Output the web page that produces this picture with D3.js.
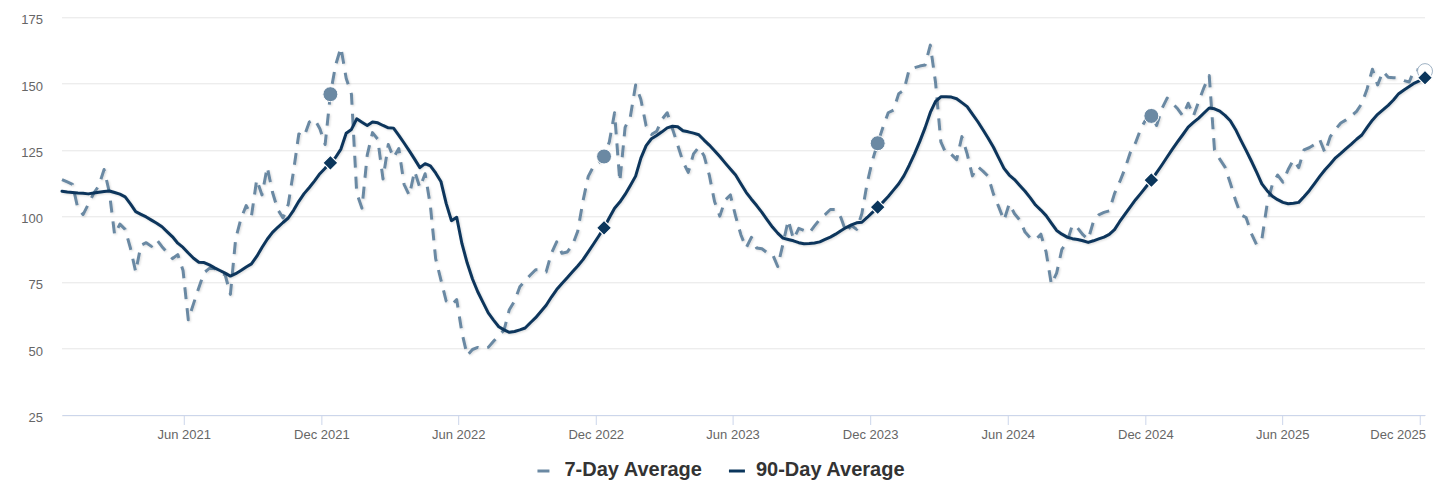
<!DOCTYPE html>
<html>
<head>
    <meta charset="utf-8">
    <title>7-Day and 90-Day Average</title>
    <script src="https://cdn.jsdelivr.net/npm/d3@7"></script>
    <style>
        body {
            margin: 0;
            background: #ffffff;
            font-family: "Liberation Sans", Arial, Helvetica, sans-serif;
        }
        .grid line {
            stroke: #e6e6e6;
            stroke-width: 1;
        }
        .x-axis path, .x-axis line {
            stroke: #ccd6eb;
        }
        .axis text {
            fill: #666666;
            font-size: 13px;
        }
        .legend text {
            fill: #333333;
            font-size: 20px;
            font-weight: bold;
        }
    </style>
</head>
<body>
<div class="mainView"></div>
<script>
    // weekly readings, first week is Mon 21 Dec 2020
    const firstWeek = "2020-12-21";

    const avg7 = [
        113.8, 112.9, 112, 103, 100.6, 104.5, 108.5, 111.5, 117.6, 109,
        93, 97, 95, 88, 79, 89, 90, 88.6, 91.1, 88.5,
        86.3, 84, 85.5, 79.5, 60.9, 67, 73, 78.7, 80.3, 80.3,
        78.5, 77.9, 70.5, 91.5, 99, 104, 100, 113.8, 108, 118.5,
        109, 102.5, 99.3, 104.5, 117, 131, 130, 135.5, 136.5, 133,
        127, 146, 157, 163.6, 152, 146, 108.8, 103, 123, 131.5,
        129, 114, 127, 122, 125.5, 112, 107.8, 117, 110.8, 116,
        104, 84, 76, 68, 66.5, 68.5, 56, 47.5, 49.7, 50.5,
        50, 50.5, 52.8, 55, 57, 64.7, 68, 73.4, 75.7, 77.8,
        79.8, 79.8, 79, 86, 90.3, 86, 86.5, 89, 94.3, 105.7,
        115, 118.8, 120.2, 122.5, 128, 139, 113, 133.5, 137.5, 149.5,
        144, 134, 130.8, 132, 136.5, 139, 133, 126.8, 120.5, 116.5,
        123.5, 126, 122.8, 115.5, 105.5, 100, 106, 108, 100, 93,
        88, 92, 88, 87.7, 86.2, 85.7, 81, 89.5, 98.5, 91.3,
        95.4, 94.6, 93.7, 96.3, 98.8, 100.6, 102.5, 102.5, 99.5, 94,
        96.5, 95, 101, 112.5, 121, 127.5, 133.5, 139, 140, 146.2,
        147.5, 155.5, 156, 156.6, 157, 164.5, 150.3, 128, 123.5, 123.3,
        121.3, 130, 123.5, 115.2, 118.7, 117, 115, 108.3, 103.5, 98.4,
        104.7, 100.9, 98.5, 94, 91.8, 91.1, 93.2, 86.5, 74.3, 78.5,
        87.5, 90.3, 96.7, 95.5, 93, 91.2, 98, 100.5, 101.4, 102,
        108.5, 113, 118, 124, 127.7, 133, 136.6, 137.8, 134.2, 140.5,
        144.5, 142.5, 140.5, 137.8, 142.6, 137.8, 143.3, 148.5, 153, 125,
        121.5, 118.5, 112.5, 106, 100.5, 99.5, 93.5, 89.2, 91.2, 104.5,
        112, 115.5, 112.8, 117.6, 121.2, 118.3, 125, 125.8, 127, 128.9,
        123.9, 130, 132.8, 135.1, 136.3, 137.8, 139.5, 142.5, 148, 155.4,
        149.5, 154.6, 152.4, 152.2, 152.1, 151.1, 150.6, 155.3, 155, 154.7
    ];

    const avg90 = [
        109.4, 109.1, 108.9, 108.7, 108.6, 108.4, 108.7, 109, 109.3, 109.5,
        108.9, 108.3, 107.3, 104.6, 101.7, 100.7, 99.7, 98.5, 97.3, 96,
        94.1, 92.2, 89.8, 88.2, 86.1, 84.1, 82.6, 82.5, 81.6, 80.5,
        79.5, 78.5, 77.4, 78.3, 79.5, 80.8, 82, 84.8, 88.2, 91.3,
        93.9, 95.8, 97.6, 99.3, 102.2, 105.6, 108.5, 110.8, 113.3, 116,
        118.1, 120.1, 122.2, 125.3, 131.3, 132.7, 136.7, 135.4, 134.2, 135.5,
        135.2, 134.2, 133.3, 133.2, 130.5, 127.6, 124.6, 121.5, 118.3, 119.8,
        119, 116.3, 113.1, 104.8, 98.3, 99.6, 89.6, 82.3, 76.3, 71.5,
        67.5, 63.5, 60.8, 58.3, 57.1, 56.2, 56.5, 57.1, 57.8, 59.8,
        61.7, 64, 66.4, 69.5, 72.3, 74.6, 76.8, 79, 81.2, 83.6,
        86.5, 89.5, 92.5, 95.6, 99.4, 103, 105.3, 108.2, 111.6, 115.1,
        121.9, 126.6, 129.2, 130.4, 131.8, 133.3, 133.9, 133.7, 132.2, 131.8,
        131.3, 130.7, 128.7, 126.8, 124.7, 122.5, 120.1, 117.8, 115.5, 112.2,
        109, 106.4, 104, 101.4, 98.6, 95.9, 93.6, 91.7, 91.2, 90.7,
        90, 89.6, 89.7, 89.9, 90.3, 91.2, 92.1, 93.2, 94.5, 95.7,
        96.7, 97.5, 97.7, 99.5, 101.4, 103.4, 105.3, 107.4, 109.8, 112.2,
        115.3, 119.2, 123.5, 128.2, 133.3, 139.1, 143.3, 145, 145, 144.9,
        144.3, 142.8, 141.3, 138.5, 135.7, 132.6, 129.4, 126, 122, 118,
        115.5, 113.8, 111.6, 109.4, 106.9, 104.2, 102.3, 100.2, 97.4, 94.6,
        93.2, 92.1, 91.5, 91.2, 90.7, 90.1, 90.7, 91.4, 92.1, 93.1,
        94.9, 98, 100.8, 103.5, 106.2, 108.6, 111.1, 113.6, 116.4, 119.3,
        122.3, 125.3, 128.1, 130.8, 133.6, 135.4, 137, 138.9, 140.8, 140.5,
        139.6, 138, 136, 132.7, 128.7, 124.8, 120.8, 116.6, 112.2, 109.6,
        107.5, 106.2, 105.2, 104.7, 104.9, 105.2, 107.3, 109.6, 112.3, 115,
        117.5, 119.7, 122, 123.7, 125.5, 127.2, 129, 130.6, 133.5, 136.2,
        138.4, 140.1, 141.8, 143.8, 146.2, 147.6, 148.9, 150.2, 151.1, 152.2
    ];

    // same week in each year
    const markerDates = ["2021-12-13", "2022-12-12", "2023-12-11", "2024-12-09", "2025-12-08"];

    const xTickMonths = ["2021-06", "2021-12", "2022-06", "2022-12", "2023-06",
                         "2023-12", "2024-06", "2024-12", "2025-06", "2025-12"];
    const yTicks = [25, 50, 75, 100, 125, 150, 175];
    const seriesNames = ["7-Day Average", "90-Day Average"];

    const color7 = "#6b89a3";
    const color90 = "#0b365c";

    let parseDay = d3.timeParse("%Y-%m-%d");
    let parseMonth = d3.timeParse("%Y-%m");

    function buildData() {
        let start = parseDay(firstWeek);
        let dates = avg7.map((d, i) => d3.timeDay.offset(start, i * 7));
        let s7 = avg7.map((v, i) => ({ date: dates[i], value: v }));
        let s90 = avg90.map((v, i) => ({ date: dates[i], value: v }));
        let marks = markerDates.map(str => {
            let dt = parseDay(str);
            let idx = Math.round(d3.timeDay.count(start, dt) / 7);
            return { date: dates[idx], v7: avg7[idx], v90: avg90[idx] };
        });
        return { dates, s7, s90, marks };
    }

    function getChartConfig() {
        let width = 1442;
        let height = 496;
        let margin = { top: 17.3, right: 17, bottom: 81, left: 62 };
        let bodyWidth = width - margin.left - margin.right;
        let bodyHeight = height - margin.top - margin.bottom;
        let svg = d3.select(".mainView")
            .append("svg")
            .attr("width", width)
            .attr("height", height);
        let defs = svg.append("defs");
        defs.append("filter")
            .attr("id", "shadow")
            .attr("x", "-2%").attr("y", "-5%")
            .attr("width", "104%").attr("height", "110%")
            .append("feDropShadow")
            .attr("dx", 1).attr("dy", 1)
            .attr("stdDeviation", 1)
            .attr("flood-color", "#000")
            .attr("flood-opacity", 0.15);
        let container = svg.append("g")
            .attr("transform", "translate(" + [margin.left, margin.top] + ")");
        return { width, height, margin, bodyWidth, bodyHeight, svg, container };
    }

    function getChartScales(data, config) {
        let { bodyWidth, bodyHeight } = config;
        let xScale = d3.scaleTime()
            .domain(d3.extent(data.dates))
            .range([0, bodyWidth]);
        let yScale = d3.scaleLinear()
            .domain([25, 175])
            .range([bodyHeight, 0]);
        return { xScale, yScale };
    }

    function drawAxes(data, scales, config) {
        let { xScale, yScale } = scales;
        let { container, bodyWidth, bodyHeight } = config;

        container.append("g")
            .attr("class", "grid")
            .selectAll("line")
            .data(yTicks)
            .enter()
            .append("line")
            .attr("x1", 0)
            .attr("x2", bodyWidth)
            .attr("y1", d => Math.round(yScale(d)) + 0.5)
            .attr("y2", d => Math.round(yScale(d)) + 0.5);

        let axisY = d3.axisLeft(yScale)
            .tickValues(yTicks)
            .tickSize(0)
            .tickPadding(19);
        let gy = container.append("g")
            .attr("class", "axis y-axis")
            .call(axisY);
        gy.select(".domain").remove();
        gy.selectAll("text").attr("dy", "0.5em");

        let axisX = d3.axisBottom(xScale)
            .tickValues(xTickMonths.map(parseMonth))
            .tickFormat(d3.timeFormat("%b %Y"))
            .tickSize(10)
            .tickSizeOuter(0)
            .tickPadding(4.5);
        let gx = container.append("g")
            .attr("class", "axis x-axis")
            .attr("transform", "translate(0," + bodyHeight + ")")
            .call(axisX);

        // keep the last label inside the chart
        let limit = bodyWidth + 1;
        gx.selectAll(".tick text").each(function () {
            let box = this.getBBox();
            let tx = +d3.select(this.parentNode).attr("transform").match(/translate\(([-\d.]+)/)[1];
            let right = tx + box.x + box.width;
            if (right > limit) {
                d3.select(this).attr("x", limit - right);
            }
        });
    }

    function drawLines(data, scales, config) {
        let { xScale, yScale } = scales;
        let { container } = config;
        let line = d3.line()
            .x(d => xScale(d.date))
            .y(d => yScale(d.value));

        container.append("path")
            .datum(data.s7)
            .attr("d", line)
            .attr("fill", "none")
            .attr("stroke", color7)
            .attr("stroke-width", 3)
            .attr("stroke-dasharray", "12,9")
            .attr("stroke-linejoin", "round")
            .attr("filter", "url(#shadow)");

        container.append("path")
            .datum(data.s90)
            .attr("d", line)
            .attr("fill", "none")
            .attr("stroke", color90)
            .attr("stroke-width", 3)
            .attr("stroke-linejoin", "round")
            .attr("stroke-linecap", "round")
            .attr("filter", "url(#shadow)");
    }

    function drawMarkers(data, scales, config) {
        let { xScale, yScale } = scales;
        let { container } = config;
        let last = data.marks.length - 1;

        container.selectAll("circle.m7")
            .data(data.marks)
            .enter()
            .append("circle")
            .attr("class", "m7")
            .attr("cx", d => xScale(d.date))
            .attr("cy", d => yScale(d.v7))
            .attr("r", 7.5)
            .attr("fill", (d, i) => i === last ? "#ffffff" : color7)
            .attr("stroke", (d, i) => i === last ? "#9fb2c4" : "#ffffff")
            .attr("stroke-width", 1);

        let r = 7.5;
        container.selectAll("path.m90")
            .data(data.marks)
            .enter()
            .append("path")
            .attr("class", "m90")
            .attr("d", d => {
                let x = xScale(d.date), y = yScale(d.v90);
                return "M" + x + "," + (y - r) + "L" + (x + r) + "," + y +
                       "L" + x + "," + (y + r) + "L" + (x - r) + "," + y + "Z";
            })
            .attr("fill", color90)
            .attr("stroke", "#ffffff")
            .attr("stroke-width", 1.2);
    }

    function drawLegend(config) {
        let { svg, width } = config;
        let items = [
            { name: seriesNames[0], color: color7, dash: "12,9" },
            { name: seriesNames[1], color: color90, dash: null }
        ];
        let symbolWidth = 16;
        let textOffset = 27;
        let itemGap = 27;
        let legend = svg.append("g").attr("class", "legend");
        let groups = items.map(item => {
            let g = legend.append("g");
            g.append("line")
                .attr("x1", 0).attr("x2", symbolWidth)
                .attr("y1", 471).attr("y2", 471)
                .attr("stroke", item.color)
                .attr("stroke-width", 3)
                .attr("stroke-dasharray", item.dash);
            let t = g.append("text")
                .attr("x", textOffset)
                .attr("y", 475.5)
                .text(item.name);
            return { g, w: textOffset + t.node().getComputedTextLength() };
        });
        let total = d3.sum(groups, d => d.w) + itemGap * (groups.length - 1);
        let x = width / 2 - total / 2;
        groups.forEach(d => {
            d.g.attr("transform", "translate(" + x + ",0)");
            x += d.w + itemGap;
        });
    }

    function showData() {
        let data = buildData();
        let config = getChartConfig();
        let scales = getChartScales(data, config);
        drawAxes(data, scales, config);
        drawLines(data, scales, config);
        drawMarkers(data, scales, config);
        drawLegend(config);
    }
    showData();
</script>
</body>
</html>
